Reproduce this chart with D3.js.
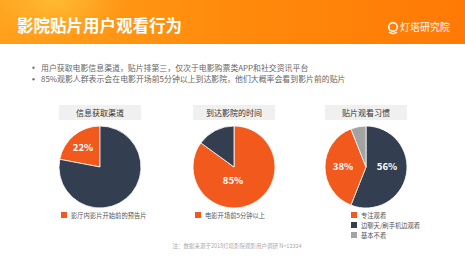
<!DOCTYPE html>
<html><head><meta charset="utf-8">
<script src="https://cdn.jsdelivr.net/npm/d3@7"></script>
<style>
html,body{margin:0;padding:0;background:#fff;}
svg{display:block;font-family:"Noto Sans CJK SC","Noto Sans",sans-serif;}
</style></head><body>
<svg id="c" width="465" height="264"></svg>
<script>
const title = "影院贴片用户观看行为";
const brand = "灯塔研究院";
const bullets = [
  "用户获取电影信息渠道，贴片排第三，仅次于电影购票类APP和社交资讯平台",
  "85%观影人群表示会在电影开场前5分钟以上到达影院，他们大概率会看到影片前的贴片"
];
const footnote = "注：数据来源于2018灯塔影院观影用户调研 N=12324";

const pieTitles = ["信息获取渠道", "到达影院的时间", "贴片观看习惯"];
// pie 1
const pie1Labels = ["影厅内影片开始前的预告片", "其他"];
const pie1Values = [22, 78];
// pie 2
const pie2Labels = ["电影开场前5分钟以上", "其他"];
const pie2Values = [85, 15];
// pie 3
const pie3Labels = ["边聊天/刷手机边观看", "专注观看", "基本不看"];
const pie3Values = [56, 38, 6];

const ORANGE = "#f2591c", NAVY = "#343e51", GRAY = "#a3a3a3";

const svg = d3.select("#c");
const W = 465;

// header
const defs = svg.append("defs");
const lg = defs.append("linearGradient").attr("id","hg").attr("x1","0").attr("x2","1");
lg.append("stop").attr("offset","0").attr("stop-color","#ffa11c");
lg.append("stop").attr("offset","0.5").attr("stop-color","#ff8a0c");
lg.append("stop").attr("offset","1").attr("stop-color","#ff7a05");
const rg = defs.append("radialGradient").attr("id","glow");
rg.append("stop").attr("offset","0").attr("stop-color","#ffc640").attr("stop-opacity",0.7);
rg.append("stop").attr("offset","1").attr("stop-color","#ffc640").attr("stop-opacity",0);
svg.append("rect").attr("x",0).attr("y",0).attr("width",W).attr("height",44).attr("fill","url(#hg)");
svg.append("ellipse").attr("cx",55).attr("cy",0).attr("rx",70).attr("ry",40).attr("fill","url(#glow)");
svg.append("text").attr("x",17).attr("y",32).attr("fill","#fff").attr("font-size",16.5)
  .attr("font-weight","bold").text(title);
// logo
const lgG = svg.append("g").attr("transform","translate(393,27)");
lgG.append("circle").attr("r",4.3).attr("fill","none").attr("stroke","#fff").attr("stroke-width",1.6);
lgG.append("path").attr("d","M-4,5 Q0,8 4,5").attr("fill","none").attr("stroke","#fff").attr("stroke-width",1.4);
svg.append("text").attr("x",400).attr("y",31).attr("fill","#fff").attr("font-size",10).text(brand);

// bullets
bullets.forEach((b,i)=>{
  const y = 70.5 + i*11.5;
  svg.append("circle").attr("cx",33.5).attr("cy",y-2.7).attr("r",1.2).attr("fill","#777");
  svg.append("text").attr("x",41).attr("y",y).attr("fill","#666").attr("font-size",7.9).text(b);
});

// pies
const pies = [
  {cx:100, values:pie1Values, labels:pie1Labels, colors:[ORANGE,NAVY], ccw:true, showLabel:[0],
   labelPos:[[83,151]], legend:[0]},
  {cx:234, values:pie2Values, labels:pie2Labels, colors:[ORANGE,NAVY], showLabel:[0],
   labelPos:[[233,184]], legend:[0]},
  {cx:366, values:pie3Values, labels:pie3Labels, colors:[NAVY,ORANGE,GRAY], showLabel:[0,1],
   labelPos:[[387,170],[343,170]], legend:[1,0,2]}
];
const cy = 167, R = 41;
pies.forEach((p,pi)=>{
  const g = svg.append("g");
  g.append("rect").attr("x",p.cx-41).attr("y",105).attr("width",82).attr("height",15).attr("fill","#f0f0f0");
  g.append("text").attr("x",p.cx).attr("y",115.5).attr("text-anchor","middle").attr("font-size",8)
    .attr("fill","#333").text(pieTitles[pi]);
  let arcsData;
  if (p.ccw) {
    const total = d3.sum(p.values);
    const a0 = -2*Math.PI*p.values[0]/total;
    arcsData = d3.pie().sort(null).value(d=>d).startAngle(a0).endAngle(a0+2*Math.PI)(p.values);
  } else {
    arcsData = d3.pie().sort(null).value(d=>d)(p.values);
  }
  const arc = d3.arc().innerRadius(0).outerRadius(R);
  const pg = g.append("g").attr("transform",`translate(${p.cx},${cy})`);
  pg.selectAll("path").data(arcsData).join("path")
    .attr("d",arc).attr("fill",(d,i)=>p.colors[i]).attr("stroke","#fff").attr("stroke-width",0.8);
  p.showLabel.forEach((idx,k)=>{
    g.append("text").attr("x",p.labelPos[k][0]).attr("y",p.labelPos[k][1]).attr("text-anchor","middle")
      .attr("font-size",9.5).attr("font-weight","bold").attr("fill","#fff")
      .text(p.values[idx]+"%");
  });
  const lx = pi===2 ? 351 : p.cx-39;
  p.legend.forEach((idx,k)=>{
    const y = 215 + k*10;
    g.append("rect").attr("x",lx).attr("y",y-3).attr("width",6).attr("height",6).attr("fill",p.colors[idx]);
    g.append("text").attr("x",lx+10).attr("y",y+2.5).attr("font-size",6.3).attr("fill","#555").text(p.labels[idx]);
  });
});

svg.append("text").attr("x",237).attr("y",248).attr("text-anchor","middle").attr("font-size",5.5)
  .attr("fill","#aaa").text(footnote);
</script>
</body></html>
